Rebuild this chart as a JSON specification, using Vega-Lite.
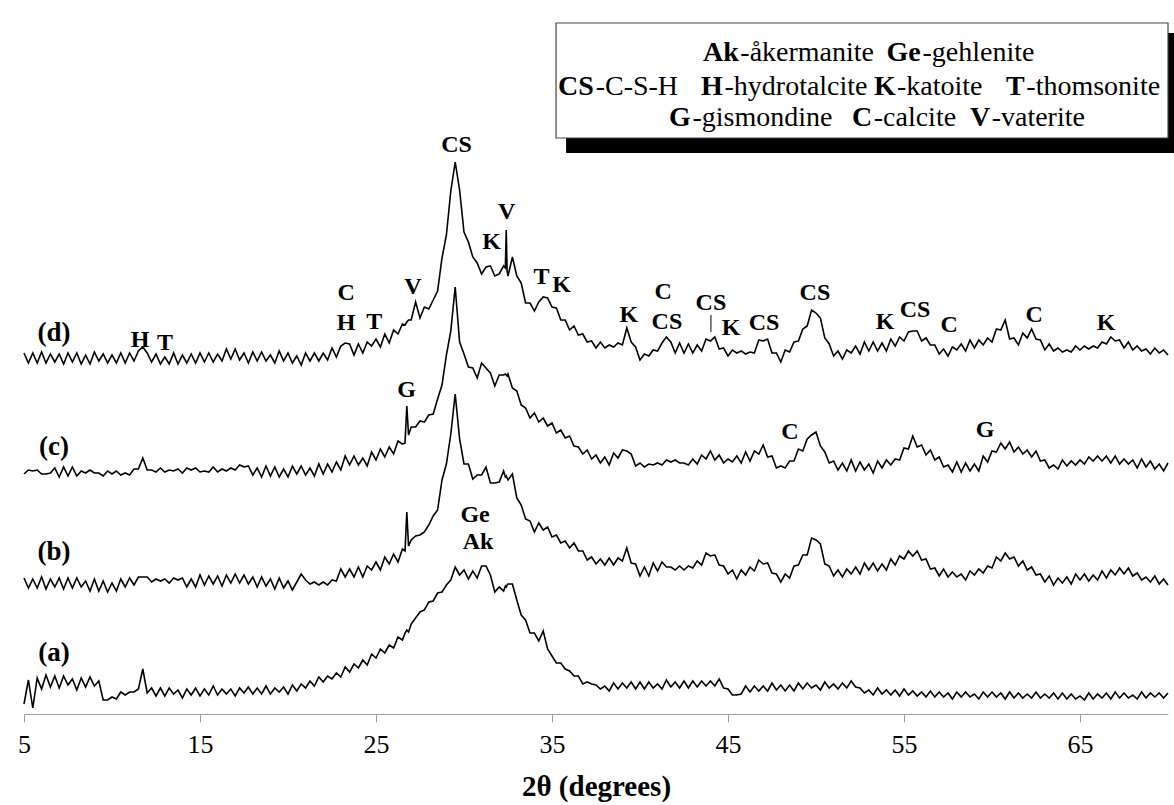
{
"$schema": "https://vega.github.io/schema/vega-lite/v6.json",
"width": 1144, "height": 714,
"autosize": "none",
"padding": {"left": 24, "top": 0, "right": 6, "bottom": 91},
"background": "white",
"config": {"view": {"stroke": null}, "font": "Liberation Serif"},
"datasets": {
"xrd": [
{"x":5,"a":8,"b":134,"c":238,"d":359},{"x":5.25,"a":32,"b":124,"c":242,"d":349},{"x":5.5,"a":4,"b":133,"c":241,"d":359},{"x":5.75,"a":34,"b":124,"c":242,"d":349},
{"x":6,"a":23,"b":135,"c":238,"d":360},{"x":6.25,"a":37,"b":123,"c":238,"d":349},{"x":6.5,"a":25,"b":133,"c":239,"d":358},{"x":6.75,"a":36,"b":125,"c":244,"d":350},
{"x":7,"a":24,"b":134,"c":235,"d":358},{"x":7.25,"a":36,"b":123,"c":245,"d":348},{"x":7.5,"a":27,"b":134,"c":236,"d":359},{"x":7.75,"a":33,"b":124,"c":245,"d":350},
{"x":8,"a":22,"b":134,"c":236,"d":359},{"x":8.25,"a":34,"b":125,"c":241,"d":348},{"x":8.5,"a":25,"b":131,"c":239,"d":357},{"x":8.75,"a":35,"b":121,"c":242,"d":348},
{"x":9,"a":26,"b":133,"c":239,"d":360},{"x":9.25,"a":31,"b":121,"c":239,"d":351},{"x":9.5,"a":12,"b":131,"c":236,"d":358},{"x":9.75,"a":12,"b":120,"c":241,"d":349},
{"x":10,"a":15,"b":129,"c":238,"d":357},{"x":10.25,"a":13,"b":121,"c":241,"d":349},{"x":10.5,"a":20,"b":133,"c":237,"d":359},{"x":10.75,"a":17,"b":125,"c":239,"d":349},
{"x":11,"a":20,"b":134,"c":237,"d":359},{"x":11.25,"a":20,"b":127,"c":243,"d":351},{"x":11.5,"a":23,"b":135,"c":243,"d":361},{"x":11.75,"a":43,"b":135,"c":254,"d":365},
{"x":12,"a":19,"b":135,"c":242,"d":359},{"x":12.25,"a":24,"b":130,"c":242,"d":350},{"x":12.5,"a":16,"b":133,"c":240,"d":358},{"x":12.75,"a":24,"b":131,"c":244,"d":348},
{"x":13,"a":16,"b":133,"c":240,"d":355},{"x":13.25,"a":24,"b":129,"c":242,"d":348},{"x":13.5,"a":18,"b":134,"c":241,"d":359},{"x":13.75,"a":22,"b":132,"c":243,"d":348},
{"x":14,"a":14,"b":134,"c":239,"d":357},{"x":14.25,"a":23,"b":125,"c":244,"d":349},{"x":14.5,"a":17,"b":133,"c":242,"d":358},{"x":14.75,"a":24,"b":125,"c":244,"d":349},
{"x":15,"a":16,"b":137,"c":240,"d":359},{"x":15.25,"a":23,"b":127,"c":241,"d":350},{"x":15.5,"a":17,"b":136,"c":240,"d":359},{"x":15.75,"a":26,"b":128,"c":245,"d":350},
{"x":16,"a":17,"b":136,"c":240,"d":358},{"x":16.25,"a":23,"b":126,"c":243,"d":351},{"x":16.5,"a":18,"b":137,"c":241,"d":363},{"x":16.75,"a":23,"b":129,"c":244,"d":353},
{"x":17,"a":16,"b":138,"c":242,"d":363},{"x":17.25,"a":24,"b":129,"c":247,"d":352},{"x":17.5,"a":19,"b":137,"c":245,"d":359},{"x":17.75,"a":25,"b":128,"c":246,"d":349},
{"x":18,"a":18,"b":135,"c":237,"d":360},{"x":18.25,"a":24,"b":125,"c":244,"d":351},{"x":18.5,"a":18,"b":135,"c":235,"d":360},{"x":18.75,"a":26,"b":126,"c":246,"d":351},
{"x":19,"a":18,"b":133,"c":236,"d":357},{"x":19.25,"a":24,"b":123,"c":245,"d":349},{"x":19.5,"a":20,"b":134,"c":235,"d":361},{"x":19.75,"a":25,"b":124,"c":243,"d":351},
{"x":20,"a":18,"b":131,"c":235,"d":359},{"x":20.25,"a":27,"b":122,"c":246,"d":349},{"x":20.5,"a":21,"b":130,"c":238,"d":356},{"x":20.75,"a":28,"b":138,"c":246,"d":347},
{"x":21,"a":24,"b":132,"c":237,"d":359},{"x":21.25,"a":31,"b":128,"c":244,"d":351},{"x":21.5,"a":26,"b":130,"c":236,"d":359},{"x":21.75,"a":35,"b":127,"c":248,"d":351},
{"x":22,"a":30,"b":130,"c":238,"d":359},{"x":22.25,"a":36,"b":127,"c":248,"d":352},{"x":22.5,"a":33,"b":132,"c":240,"d":364},{"x":22.75,"a":39,"b":131,"c":250,"d":355},
{"x":23,"a":35,"b":143,"c":242,"d":366},{"x":23.25,"a":45,"b":135,"c":256,"d":369},{"x":23.5,"a":40,"b":143,"c":247,"d":368},{"x":23.75,"a":48,"b":135,"c":256,"d":357},
{"x":24,"a":44,"b":145,"c":247,"d":368},{"x":24.25,"a":52,"b":135,"c":254,"d":359},{"x":24.5,"a":47,"b":146,"c":246,"d":370},{"x":24.75,"a":58,"b":142,"c":260,"d":366},
{"x":25,"a":54,"b":150,"c":252,"d":373},{"x":25.25,"a":63,"b":142,"c":263,"d":365},{"x":25.5,"a":59,"b":155,"c":255,"d":378},{"x":25.75,"a":67,"b":148,"c":265,"d":369},
{"x":26,"a":64,"b":158,"c":258,"d":382},{"x":26.25,"a":75,"b":150,"c":271,"d":378},{"x":26.5,"a":72,"b":163,"c":268,"d":388},{"x":26.65,"a":79,"b":161,"c":269,"d":387},
{"x":26.75,"a":82,"b":200,"c":306,"d":390},{"x":26.85,"a":80,"b":166,"c":277,"d":392},
{"x":27,"a":88,"b":172,"c":285,"d":392},{"x":27.25,"a":94,"b":176,"c":285,"d":410},{"x":27.5,"a":100,"b":177,"c":291,"d":394},{"x":27.75,"a":102,"b":180,"c":290,"d":405},
{"x":28,"a":110,"b":187,"c":297,"d":403},{"x":28.25,"a":111,"b":196,"c":298,"d":412},{"x":28.5,"a":119,"b":202,"c":313,"d":421},{"x":28.75,"a":120,"b":232,"c":327,"d":454},
{"x":29,"a":127,"b":248,"c":357,"d":477},{"x":29.25,"a":132,"b":278,"c":381,"d":521},{"x":29.5,"a":145,"b":318,"c":425,"d":550},{"x":29.75,"a":137,"b":273,"c":370,"d":522},
{"x":30,"a":142,"b":248,"c":358,"d":480},{"x":30.25,"a":133,"b":248,"c":345,"d":470},{"x":30.5,"a":141,"b":233,"c":344,"d":455},{"x":30.75,"a":134,"b":237,"c":334,"d":449},
{"x":31,"a":146,"b":237,"c":349,"d":438},{"x":31.25,"a":146,"b":245,"c":344,"d":445},{"x":31.5,"a":137,"b":229,"c":339,"d":446},{"x":31.75,"a":120,"b":229,"c":326,"d":436},
{"x":32,"a":125,"b":230,"c":337,"d":438},{"x":32.25,"a":121,"b":241,"c":337,"d":446},{"x":32.35,"a":126,"b":235,"c":338,"d":444},{"x":32.4,"a":125,"b":236,"c":337,"d":482},
{"x":32.45,"a":127,"b":234,"c":336,"d":441},{"x":32.5,"a":128,"b":232,"c":338,"d":436},{"x":32.75,"a":128,"b":238,"c":324,"d":455},
{"x":33,"a":112,"b":214,"c":321,"d":436},{"x":33.25,"a":97,"b":207,"c":307,"d":429},{"x":33.5,"a":92,"b":193,"c":304,"d":409},{"x":33.75,"a":79,"b":191,"c":294,"d":409},
{"x":34,"a":79,"b":180,"c":299,"d":401},{"x":34.25,"a":71,"b":189,"c":290,"d":410},{"x":34.5,"a":81,"b":182,"c":294,"d":415},{"x":34.75,"a":63,"b":185,"c":286,"d":414},
{"x":35,"a":56,"b":175,"c":289,"d":405},{"x":35.25,"a":49,"b":177,"c":279,"d":404},{"x":35.5,"a":49,"b":169,"c":282,"d":392},{"x":35.75,"a":43,"b":171,"c":274,"d":392},
{"x":36,"a":41,"b":164,"c":276,"d":382},{"x":36.25,"a":36,"b":169,"c":266,"d":386},{"x":36.5,"a":36,"b":161,"c":265,"d":377},{"x":36.75,"a":28,"b":161,"c":258,"d":378},
{"x":37,"a":30,"b":152,"c":262,"d":370},{"x":37.25,"a":28,"b":155,"c":253,"d":371},{"x":37.5,"a":27,"b":148,"c":257,"d":364},{"x":37.75,"a":23,"b":153,"c":249,"d":370},
{"x":38,"a":26,"b":147,"c":255,"d":364},{"x":38.25,"a":21,"b":154,"c":247,"d":367},{"x":38.5,"a":29,"b":147,"c":259,"d":365},{"x":38.75,"a":23,"b":154,"c":254,"d":369},
{"x":39,"a":29,"b":151,"c":262,"d":367},{"x":39.25,"a":24,"b":164,"c":261,"d":384},{"x":39.5,"a":30,"b":149,"c":258,"d":370},{"x":39.75,"a":23,"b":148,"c":246,"d":365},
{"x":40,"a":30,"b":136,"c":249,"d":352},{"x":40.25,"a":23,"b":145,"c":245,"d":358},{"x":40.5,"a":30,"b":136,"c":248,"d":356},{"x":40.75,"a":24,"b":149,"c":247,"d":362},
{"x":41,"a":28,"b":141,"c":249,"d":361},{"x":41.25,"a":23,"b":150,"c":247,"d":369},{"x":41.5,"a":32,"b":145,"c":252,"d":375},{"x":41.75,"a":25,"b":145,"c":250,"d":370},
{"x":42,"a":30,"b":142,"c":252,"d":359},{"x":42.25,"a":24,"b":146,"c":249,"d":369},{"x":42.5,"a":31,"b":142,"c":249,"d":359},{"x":42.75,"a":24,"b":146,"c":247,"d":368},
{"x":43,"a":31,"b":144,"c":253,"d":359},{"x":43.25,"a":25,"b":151,"c":248,"d":367},{"x":43.5,"a":31,"b":147,"c":257,"d":361},{"x":43.75,"a":26,"b":159,"c":253,"d":373},
{"x":44,"a":31,"b":156,"c":261,"d":371},{"x":44.25,"a":26,"b":157,"c":252,"d":375},{"x":44.5,"a":33,"b":147,"c":257,"d":363},{"x":44.75,"a":24,"b":146,"c":249,"d":364},
{"x":45,"a":23,"b":138,"c":253,"d":356},{"x":45.25,"a":17,"b":142,"c":250,"d":362},{"x":45.5,"a":17,"b":133,"c":256,"d":359},{"x":45.75,"a":18,"b":142,"c":249,"d":361},
{"x":46,"a":26,"b":137,"c":260,"d":358},{"x":46.25,"a":20,"b":145,"c":251,"d":360},{"x":46.5,"a":26,"b":141,"c":261,"d":359},{"x":46.75,"a":21,"b":152,"c":258,"d":372},
{"x":47,"a":26,"b":148,"c":267,"d":371},{"x":47.25,"a":21,"b":149,"c":255,"d":373},{"x":47.5,"a":29,"b":139,"c":256,"d":359},{"x":47.75,"a":22,"b":138,"c":244,"d":359},
{"x":48,"a":27,"b":130,"c":246,"d":350},{"x":48.25,"a":21,"b":138,"c":244,"d":362},{"x":48.5,"a":27,"b":134,"c":251,"d":360},{"x":48.75,"a":21,"b":146,"c":251,"d":370},
{"x":49,"a":29,"b":147,"c":263,"d":371},{"x":49.25,"a":23,"b":157,"c":261,"d":383},{"x":49.5,"a":29,"b":157,"c":273,"d":386},{"x":49.75,"a":24,"b":174,"c":277,"d":402},
{"x":50,"a":27,"b":172,"c":280,"d":399},{"x":50.25,"a":22,"b":168,"c":266,"d":394},{"x":50.5,"a":30,"b":148,"c":260,"d":374},{"x":50.75,"a":24,"b":146,"c":249,"d":368},
{"x":51,"a":28,"b":136,"c":251,"d":356},{"x":51.25,"a":23,"b":142,"c":242,"d":361},{"x":51.5,"a":29,"b":135,"c":249,"d":353},{"x":51.75,"a":24,"b":143,"c":241,"d":362},
{"x":52,"a":31,"b":138,"c":252,"d":359},{"x":52.25,"a":25,"b":145,"c":241,"d":366},{"x":52.5,"a":24,"b":138,"c":250,"d":358},{"x":52.75,"a":19,"b":149,"c":242,"d":370},
{"x":53,"a":22,"b":142,"c":248,"d":361},{"x":53.25,"a":17,"b":149,"c":239,"d":370},{"x":53.5,"a":24,"b":141,"c":251,"d":361},{"x":53.75,"a":18,"b":148,"c":244,"d":369},
{"x":54,"a":22,"b":142,"c":252,"d":361},{"x":54.25,"a":17,"b":153,"c":247,"d":373},{"x":54.5,"a":22,"b":147,"c":253,"d":366},{"x":54.75,"a":16,"b":156,"c":252,"d":375},
{"x":55,"a":23,"b":153,"c":264,"d":371},{"x":55.25,"a":17,"b":161,"c":263,"d":380},{"x":55.5,"a":21,"b":156,"c":276,"d":381},{"x":55.75,"a":16,"b":161,"c":265,"d":381},
{"x":56,"a":20,"b":152,"c":267,"d":371},{"x":56.25,"a":15,"b":153,"c":257,"d":374},{"x":56.5,"a":21,"b":143,"c":262,"d":367},{"x":56.75,"a":15,"b":144,"c":252,"d":367},
{"x":57,"a":20,"b":136,"c":255,"d":358},{"x":57.25,"a":15,"b":143,"c":245,"d":363},{"x":57.5,"a":19,"b":135,"c":247,"d":356},{"x":57.75,"a":13,"b":140,"c":240,"d":365},
{"x":58,"a":20,"b":135,"c":250,"d":362},{"x":58.25,"a":15,"b":138,"c":240,"d":368},{"x":58.5,"a":20,"b":132,"c":249,"d":361},{"x":58.75,"a":15,"b":141,"c":241,"d":372},
{"x":59,"a":18,"b":137,"c":248,"d":364},{"x":59.25,"a":13,"b":143,"c":241,"d":372},{"x":59.5,"a":20,"b":139,"c":256,"d":367},{"x":59.75,"a":15,"b":146,"c":250,"d":374},
{"x":60,"a":20,"b":144,"c":261,"d":370},{"x":60.25,"a":15,"b":155,"c":260,"d":383},{"x":60.5,"a":19,"b":151,"c":269,"d":382},{"x":60.75,"a":13,"b":159,"c":263,"d":392},
{"x":61,"a":20,"b":153,"c":270,"d":373},{"x":61.25,"a":14,"b":155,"c":260,"d":374},{"x":61.5,"a":19,"b":146,"c":265,"d":367},{"x":61.75,"a":14,"b":151,"c":258,"d":379},
{"x":62,"a":18,"b":142,"c":262,"d":374},{"x":62.25,"a":14,"b":145,"c":255,"d":383},{"x":62.5,"a":20,"b":137,"c":261,"d":373},{"x":62.75,"a":14,"b":138,"c":251,"d":372},
{"x":63,"a":18,"b":130,"c":252,"d":362},{"x":63.25,"a":14,"b":136,"c":244,"d":368},{"x":63.5,"a":19,"b":127,"c":247,"d":361},{"x":63.75,"a":13,"b":134,"c":243,"d":364},
{"x":64,"a":19,"b":129,"c":252,"d":360},{"x":64.25,"a":13,"b":135,"c":246,"d":362},{"x":64.5,"a":18,"b":128,"c":251,"d":360},{"x":64.75,"a":13,"b":138,"c":247,"d":366},
{"x":65,"a":16,"b":132,"c":252,"d":362},{"x":65.25,"a":12,"b":138,"c":248,"d":366},{"x":65.5,"a":19,"b":131,"c":255,"d":363},{"x":65.75,"a":13,"b":137,"c":251,"d":366},
{"x":66,"a":18,"b":132,"c":256,"d":364},{"x":66.25,"a":14,"b":141,"c":251,"d":370},{"x":66.5,"a":19,"b":134,"c":256,"d":368},{"x":66.75,"a":13,"b":142,"c":249,"d":375},
{"x":67,"a":20,"b":137,"c":256,"d":371},{"x":67.25,"a":14,"b":144,"c":248,"d":372},{"x":67.5,"a":19,"b":138,"c":253,"d":364},{"x":67.75,"a":14,"b":144,"c":248,"d":370},
{"x":68,"a":17,"b":136,"c":252,"d":362},{"x":68.25,"a":13,"b":139,"c":244,"d":366},{"x":68.5,"a":20,"b":132,"c":253,"d":361},{"x":68.75,"a":14,"b":135,"c":245,"d":363},
{"x":69,"a":19,"b":130,"c":251,"d":358},{"x":69.25,"a":15,"b":136,"c":243,"d":364},{"x":69.5,"a":19,"b":128,"c":248,"d":359},{"x":69.75,"a":14,"b":133,"c":241,"d":362},
{"x":70,"a":19,"b":127,"c":249,"d":357}
],
"peaks": [
{"t":"H","x":11.59,"y":372},{"t":"T","x":13.01,"y":369},
{"t":"C","x":23.3,"y":419},{"t":"H","x":23.3,"y":389},{"t":"T","x":24.9,"y":390},
{"t":"V","x":27.1,"y":425},{"t":"CS","x":29.58,"y":567},{"t":"K","x":31.57,"y":470},{"t":"V","x":32.43,"y":500},
{"t":"T","x":34.41,"y":435},{"t":"K","x":35.55,"y":427},{"t":"K","x":39.37,"y":397},
{"t":"C","x":41.31,"y":420},{"t":"CS","x":41.53,"y":390},{"t":"CS","x":44.03,"y":409},{"t":"K","x":45.17,"y":384},
{"t":"CS","x":47.05,"y":389},{"t":"CS","x":49.94,"y":419},{"t":"K","x":53.92,"y":390},{"t":"CS","x":55.63,"y":402},
{"t":"C","x":57.56,"y":387},{"t":"C","x":62.39,"y":397},{"t":"K","x":66.48,"y":389},
{"t":"G","x":26.74,"y":322},{"t":"C","x":48.52,"y":280},{"t":"G","x":59.6,"y":282},
{"t":"Ge","x":30.63,"y":197},{"t":"Ak","x":30.8,"y":170}
],
"traces": [
{"t":"(d)","x":6.7,"y":379},{"t":"(c)","x":6.7,"y":265},{"t":"(b)","x":6.7,"y":160},{"t":"(a)","x":6.7,"y":59}
],
"legendBold": [
{"t":"Ak","x":43.58,"y":659},{"t":"Ge","x":54.01,"y":659},
{"t":"CS","x":35.34,"y":625},{"t":"H","x":43.47,"y":625},{"t":"K","x":53.3,"y":625},{"t":"T","x":60.8,"y":625},
{"t":"G","x":41.65,"y":594},{"t":"C","x":52.05,"y":594},{"t":"V","x":58.75,"y":594}
],
"legendNormal": [
{"t":"-åkermanite","x":45.7,"y":659},{"t":"-gehlenite","x":56.05,"y":659},
{"t":"-C-S-H","x":37.48,"y":625},{"t":"-hydrotalcite","x":44.8,"y":625},{"t":"-katoite","x":54.6,"y":625},{"t":"-thomsonite","x":61.95,"y":625},
{"t":"-gismondine","x":42.98,"y":594},{"t":"-calcite","x":53.28,"y":594},{"t":"-vaterite","x":59.98,"y":594}
]
},
"layer": [
{
"data": {"name":"xrd"},
"transform": [{"fold":["a","b","c","d"],"as":["trace","intensity"]}],
"mark": {"type":"line","color":"black","strokeWidth":1.6},
"encoding": {
"x": {"field":"x","type":"quantitative","scale":{"domain":[5,70],"nice":false,"zero":false},
 "axis":{"values":[5,15,25,35,45,55,65],"grid":false,"domainColor":"#a0a0a0","tickColor":"#a0a0a0","tickSize":8,
  "labelFont":"Liberation Serif","labelFontSize":26,"labelColor":"black","labelPadding":9,"labelFlush":false,
  "title":"2θ (degrees)","titleFont":"Liberation Serif","titleFontSize":29,"titleFontWeight":"bold","titleColor":"black","titlePadding":15}},
"y": {"field":"intensity","type":"quantitative","scale":{"domain":[-2,712],"nice":false,"zero":false},"axis":null},
"detail": {"field":"trace"}
}
},
{
"data": {"values": [{"x":35.8,"x2":70.4,"y":559,"y2":679}]},
"mark": {"type":"rect","fill":"black"},
"encoding": {
"x": {"field":"x","type":"quantitative"},
"x2": {"field":"x2"},
"y": {"field":"y","type":"quantitative","axis":null},
"y2": {"field":"y2"}
}
},
{
"data": {"values": [{"x":35.23,"x2":70,"y":574,"y2":689}]},
"mark": {"type":"rect","fill":"white","stroke":"#444444","strokeWidth":1.2},
"encoding": {
"x": {"field":"x","type":"quantitative"},
"x2": {"field":"x2"},
"y": {"field":"y","type":"quantitative","axis":null},
"y2": {"field":"y2"}
}
},
{
"data": {"values": [{"x":44.03,"y":380,"y2":397}]},
"mark": {"type":"rule","color":"black","strokeWidth":1},
"encoding": {
"x": {"field":"x","type":"quantitative"},
"y": {"field":"y","type":"quantitative","axis":null},
"y2": {"field":"y2"}
}
},
{
"data": {"name":"peaks"},
"mark": {"type":"text","font":"Liberation Serif","fontWeight":"bold","fontSize":24,"color":"black","baseline":"middle","align":"center"},
"encoding": {
"x": {"field":"x","type":"quantitative"},
"y": {"field":"y","type":"quantitative","axis":null},
"text": {"field":"t"}
}
},
{
"data": {"name":"traces"},
"mark": {"type":"text","font":"Liberation Serif","fontWeight":"bold","fontSize":27,"color":"black","baseline":"middle","align":"center"},
"encoding": {
"x": {"field":"x","type":"quantitative"},
"y": {"field":"y","type":"quantitative","axis":null},
"text": {"field":"t"}
}
},
{
"data": {"name":"legendBold"},
"mark": {"type":"text","font":"Liberation Serif","fontWeight":"bold","fontSize":28,"color":"black","baseline":"middle","align":"left"},
"encoding": {
"x": {"field":"x","type":"quantitative"},
"y": {"field":"y","type":"quantitative","axis":null},
"text": {"field":"t"}
}
},
{
"data": {"name":"legendNormal"},
"mark": {"type":"text","font":"Liberation Serif","fontSize":28,"color":"black","baseline":"middle","align":"left"},
"encoding": {
"x": {"field":"x","type":"quantitative"},
"y": {"field":"y","type":"quantitative","axis":null},
"text": {"field":"t"}
}
}
]
}
